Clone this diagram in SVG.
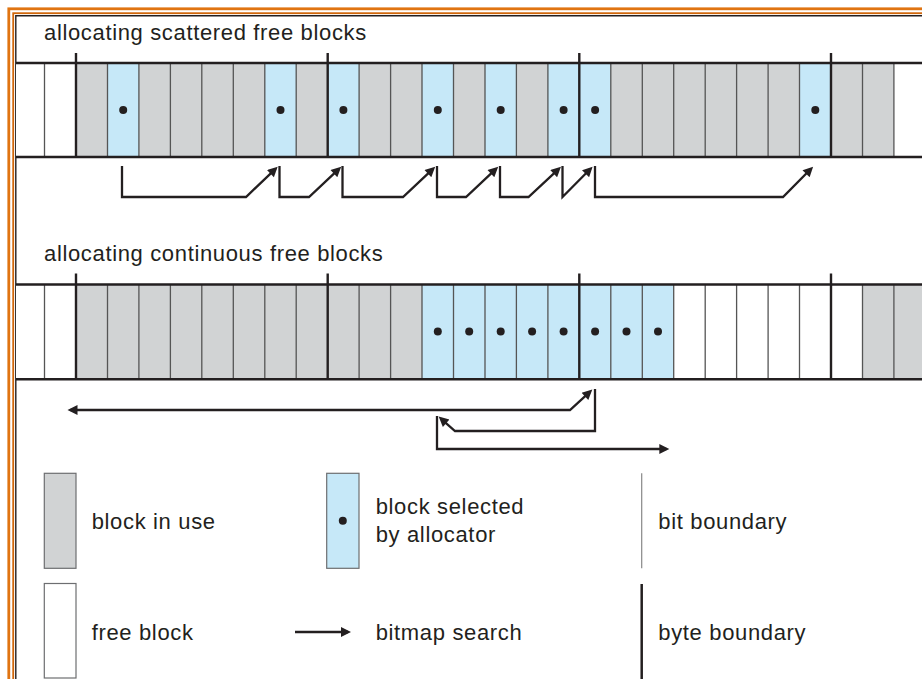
<svg xmlns="http://www.w3.org/2000/svg" width="922" height="679" viewBox="0 0 922 679">
<defs>
<style>
.t{font-family:"Liberation Sans",Arial,Helvetica,sans-serif;font-size:22px;fill:#231f20;letter-spacing:0.65px}
.used{fill:#d1d3d4}
.sel{fill:#c6e8f8}
.free{fill:#ffffff}
.bit{stroke:#555;stroke-width:1.3}
.byte{stroke:#231f20;stroke-width:2.4}
.rowline{stroke:#231f20;stroke-width:2.6}
.dot{fill:#231f20}
.conn{fill:none;stroke:#231f20;stroke-width:2.3;stroke-linejoin:miter}
</style>
<marker id="ah" viewBox="0 0 10 10" refX="7" refY="5" markerWidth="12.5" markerHeight="10" markerUnits="userSpaceOnUse" orient="auto-start-reverse">
<path d="M0,0 L10,5 L0,10 z" fill="#231f20"/>
</marker>
</defs>
<rect width="922" height="679" fill="#ffffff"/>
<g id="frame" fill="none">
<rect x="8.8" y="8.8" width="1000" height="1000" stroke="#e07412" stroke-width="2.8"/>
<rect x="13.2" y="13.2" width="1000" height="1000" stroke="#d0660a" stroke-width="1.8"/>
<path d="M15.8,1000 V15.8 H1000" stroke="#231f20" stroke-width="1.4"/>
</g>
<text class="t" x="44" y="39.5">allocating scattered free blocks</text>
<text class="t" x="44" y="260.7">allocating continuous free blocks</text>
<g id="row-scattered">
<rect class="free" x="16" y="63" width="60" height="94"/>
<rect class="used" x="76" y="63" width="817.9" height="94"/>
<rect class="free" x="893.9" y="63" width="30" height="94"/>
<rect class="sel" x="107.5" y="63" width="31.5" height="94"/>
<rect class="sel" x="264.8" y="63" width="31.5" height="94"/>
<rect class="sel" x="327.7" y="63" width="31.5" height="94"/>
<rect class="sel" x="422" y="63" width="31.5" height="94"/>
<rect class="sel" x="485" y="63" width="31.5" height="94"/>
<rect class="sel" x="547.9" y="63" width="62.9" height="94"/>
<rect class="sel" x="799.5" y="63" width="31.5" height="94"/>
<g class="bit">
<path d="M44.5,63V157M107.5,63V157M138.9,63V157M170.4,63V157M201.8,63V157M233.3,63V157M264.8,63V157M296.2,63V157M359.1,63V157M390.6,63V157M422,63V157M453.5,63V157M485,63V157M516.4,63V157M547.9,63V157M610.8,63V157M642.3,63V157M673.7,63V157M705.2,63V157M736.6,63V157M768.1,63V157M799.5,63V157M862.5,63V157M893.9,63V157"/>
</g>
<path class="byte" d="M76,53V157M327.7,53V157M579.3,53V157M831,53V157"/>
<path class="rowline" d="M16,63H922M16,157H922"/>
<g class="dot">
<circle cx="123.2" cy="110" r="4"/>
<circle cx="280.5" cy="110" r="4"/>
<circle cx="343.4" cy="110" r="4"/>
<circle cx="437.8" cy="110" r="4"/>
<circle cx="500.7" cy="110" r="4"/>
<circle cx="563.6" cy="110" r="4"/>
<circle cx="595.1" cy="110" r="4"/>
<circle cx="815.3" cy="110" r="4"/>
</g>
</g>
<g id="row-continuous">
<rect class="free" x="16" y="284.5" width="60" height="94.7"/>
<rect class="used" x="76" y="284.5" width="346" height="94.7"/>
<rect class="sel" x="422" y="284.5" width="251.7" height="94.7"/>
<rect class="free" x="673.7" y="284.5" width="188.8" height="94.7"/>
<rect class="used" x="862.5" y="284.5" width="60" height="94.7"/>
<g class="bit">
<path d="M44.5,284.5V379.2M107.5,284.5V379.2M138.9,284.5V379.2M170.4,284.5V379.2M201.8,284.5V379.2M233.3,284.5V379.2M264.8,284.5V379.2M296.2,284.5V379.2M359.1,284.5V379.2M390.6,284.5V379.2M422,284.5V379.2M453.5,284.5V379.2M485,284.5V379.2M516.4,284.5V379.2M547.9,284.5V379.2M610.8,284.5V379.2M642.3,284.5V379.2M673.7,284.5V379.2M705.2,284.5V379.2M736.6,284.5V379.2M768.1,284.5V379.2M799.5,284.5V379.2M862.5,284.5V379.2M893.9,284.5V379.2"/>
</g>
<path class="byte" d="M76,273.5V379.2M327.7,273.5V379.2M579.3,273.5V379.2M831,273.5V379.2"/>
<path class="rowline" d="M16,284.5H922M16,379.2H922"/>
<g class="dot">
<circle cx="437.8" cy="331.5" r="4"/>
<circle cx="469.2" cy="331.5" r="4"/>
<circle cx="500.7" cy="331.5" r="4"/>
<circle cx="532.1" cy="331.5" r="4"/>
<circle cx="563.6" cy="331.5" r="4"/>
<circle cx="595.1" cy="331.5" r="4"/>
<circle cx="626.5" cy="331.5" r="4"/>
<circle cx="658" cy="331.5" r="4"/>
</g>
</g>
<g id="connectors">
<path class="conn" marker-end="url(#ah)" d="M122,166V197H246L275.5,168.8"/>
<path class="conn" marker-end="url(#ah)" d="M279.5,166V197H309L339,168.8"/>
<path class="conn" marker-end="url(#ah)" d="M342.5,166V197H403L433,168.8"/>
<path class="conn" marker-end="url(#ah)" d="M437,166V197H466L496,168.8"/>
<path class="conn" marker-end="url(#ah)" d="M500,166V197H528.5L558.8,168.8"/>
<path class="conn" marker-end="url(#ah)" d="M562.5,166V197L590.5,168.8"/>
<path class="conn" marker-end="url(#ah)" d="M595,166V197H783L811,168.8"/>
<path class="conn" marker-start="url(#ah)" marker-end="url(#ah)" d="M70.5,410H570L590.1,391.6"/>
<path class="conn" marker-end="url(#ah)" d="M595,389V431H455L440.9,418.6"/>
<path class="conn" marker-end="url(#ah)" d="M437,416V449H666.3"/>
</g>
<g id="legend-used">
<rect x="44.3" y="473.3" width="31.7" height="95" fill="#d1d3d4" stroke="#6d6e71" stroke-width="1.2"/>
<text class="t" x="91.7" y="529">block in use</text>
</g>
<g id="legend-free">
<rect x="44.3" y="583.5" width="31.7" height="94.5" fill="#ffffff" stroke="#6d6e71" stroke-width="1.2"/>
<text class="t" x="91.7" y="640">free block</text>
</g>
<g id="legend-selected">
<rect x="326.7" y="473.3" width="32.3" height="95" fill="#c6e8f8" stroke="#6d6e71" stroke-width="1.2"/>
<circle class="dot" cx="342.8" cy="520.7" r="4"/>
<text class="t" x="375.7" y="514.3">block selected</text>
<text class="t" x="375.7" y="541.5">by allocator</text>
</g>
<g id="legend-search">
<path class="conn" marker-end="url(#ah)" d="M295,632H348"/>
<text class="t" x="375.7" y="640">bitmap search</text>
</g>
<g id="legend-bit">
<path d="M641.7,473.3V568.3" stroke="#888" stroke-width="1.2"/>
<text class="t" x="658.3" y="529">bit boundary</text>
</g>
<g id="legend-byte">
<path d="M641.7,584V679" stroke="#231f20" stroke-width="2.5"/>
<text class="t" x="658.3" y="640">byte boundary</text>
</g>
</svg>
